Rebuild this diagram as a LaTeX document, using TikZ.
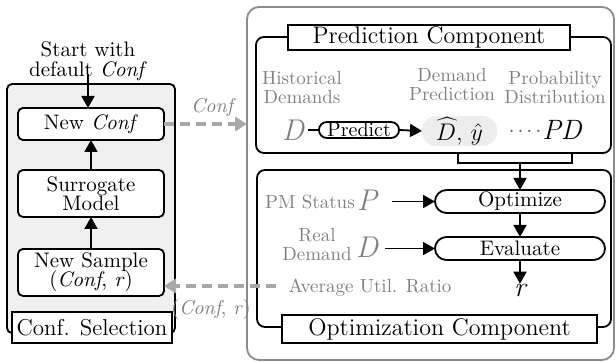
\documentclass[tikz,border=0pt]{standalone}
\usetikzlibrary{arrows.meta,shapes.misc,positioning}
\definecolor{lbl}{HTML}{808080}
\definecolor{dsh}{HTML}{A8A8A8}
\definecolor{panel}{HTML}{F0F0F0}
\definecolor{frame}{HTML}{8C8C8C}
\begin{document}
\begin{tikzpicture}[x=0.5pt,y=-0.5pt,
  every node/.style={inner sep=0pt, outer sep=0pt},
  stepbox/.style={draw, line width=0.9pt, rounded corners=2.5pt, fill=white,
    minimum width=73pt, align=center, font=\fontsize{10.5}{11.5}\selectfont},
  titlebox/.style={draw, line width=0.9pt, fill=white, font=\fontsize{12}{13}\selectfont},
  pill/.style={draw, line width=0.9pt, rounded rectangle, fill=white,
    font=\fontsize{10.5}{11}\selectfont},
  graytxt/.style={text=lbl, align=center, font=\fontsize{9.5}{9.5}\selectfont},
  bigsym/.style={text=lbl, font=\fontsize{15}{16}\selectfont\itshape},
  flow/.style={line width=0.9pt, -{Triangle[length=6pt,width=6.5pt]}},
  link/.style={line width=0.9pt},
  feed/.style={draw=dsh, line width=2pt, dash pattern=on 5pt off 3pt,
    -{Triangle[length=6pt,width=7pt,fill=dsh]}},
]
\useasboundingbox (0,0) rectangle (616,362);

% ---- configuration selection loop ----
\node[draw, line width=0.9pt, fill=panel, rounded corners=2.5pt,
      minimum width=84pt, minimum height=124.5pt] (selpanel) at (91,208.5) {};
\node[titlebox, minimum width=80pt, minimum height=15.5pt, font=\fontsize{11.5}{13}\selectfont] (seltitle) at (92,327.5) {Conf. Selection};
\node[align=center, font=\fontsize{10.5}{10}\selectfont] (start) at (88,61) {Start with\\default \emph{Conf}};
\node[stepbox, minimum height=16pt] (newconf) at (91,124) {New \emph{Conf}};
\node[stepbox, minimum height=23.5pt] (surr) at (91,193.5) {Surrogate\\[-2pt]Model};
\node[stepbox, minimum height=23.5pt] (newsample) at (91,272.5) {New Sample\\[-2pt](\emph{Conf}, \emph{r})};
\coordinate (startpt) at (88,74);
\draw[flow] (startpt) -- (startpt |- newconf.north);
\draw[flow] (surr.north) -- (newconf.south);
\draw[flow] (newsample.north) -- (surr.south);

% ---- evaluation side ----
\node[draw=frame, line width=0.9pt, rounded corners=6pt,
      minimum width=183.5pt, minimum height=176.5pt] (evalframe) at (430.5,183.5) {};

% prediction component
\node[draw, line width=0.9pt, rounded corners=4pt,
      minimum width=177.5pt, minimum height=58pt] (predbox) at (433.5,95) {};
\node[titlebox, minimum width=141pt, minimum height=12.5pt] (predtitle) at (429,37.5) {Prediction Component};
\node[graytxt] (hist) at (302,88) {Historical\\Demands};
\node[graytxt] (dprd) at (452,85) {Demand\\Prediction};
\node[graytxt] (prob) at (555,88) {Probability\\Distribution};
\node[bigsym] (dsym) at (293,130) {D};
\node[pill, minimum width=36pt, minimum height=8pt, inner xsep=2pt, font=\fontsize{10}{10}\selectfont] (predict) at (359,130) {Predict};
\node[fill=black!7, rounded corners=7pt, minimum width=37.5pt, minimum height=15pt,
      font=\fontsize{12}{13}\selectfont] (dhat) at (459.5,131) {$\widehat{D},\,\hat{y}$};
\node[text=black!60, font=\fontsize{12}{12}\selectfont] (dots) at (525,131) {.\kern1.2pt.\kern1.2pt.\kern1.2pt.};
\node[font=\fontsize{14}{16}\selectfont\itshape] (pd) at (562,130) {PD};
\draw[link] (dsym.east) ++(4,0) -- (predict.west);
\draw[flow] (predict.east) -- (dhat.west);

% optimization component
\node[draw, line width=0.9pt, rounded corners=4pt,
      minimum width=177pt, minimum height=78.5pt] (optbox) at (434,248.5) {};
\node[titlebox, minimum width=157.5pt, minimum height=14pt] (opttitle) at (439.5,329) {Optimization Component};
\node[pill, minimum width=85pt, minimum height=11.5pt] (optimize) at (520,201.5) {Optimize};
\node[pill, minimum width=85pt, minimum height=11.5pt] (evaluate) at (520,248.5) {Evaluate};
\node[graytxt] (pmstat) at (310,202) {PM Status};
\node[bigsym] (psym) at (367,200) {P};
\node[graytxt] (realdem) at (317,245) {Real\\Demand};
\node[bigsym] (rdsym) at (367,247) {D};
\node[font=\fontsize{14}{16}\selectfont\itshape] (rsym) at (520,290) {r};
\node[graytxt] (avgutil) at (370,288) {Average Util. Ratio};

% merge of the two prediction outputs into the optimizer
\coordinate (mergeL) at (458,163);
\coordinate (mergeR) at (572,163);
\coordinate (mergeC) at (520,163);
\draw[link] (mergeL |- predbox.south) -- (mergeL) -- (mergeR) -- (mergeR |- predbox.south);
\draw[flow] (mergeC) -- (optimize.north);
\draw[flow] (optimize.south) -- (evaluate.north);
\draw[flow] (evaluate.south) -- (rsym.north);
\coordinate (pstart) at (392,201.5);
\draw[flow] (pstart) -- (optimize.west);
\coordinate (dstart) at (385,248.5);
\draw[flow] (dstart) -- (evaluate.west);

% feedback between the two parts
\coordinate (confend) at (247,124);
\draw[feed] (newconf.east) -- (confend);
\node[text=lbl, font=\fontsize{10}{10}\selectfont\itshape] (conflbl) at (212,108) {Conf};
\coordinate (retstart) at (276,286);
\draw[feed] (retstart) -- (retstart -| newsample.east);
\node[text=lbl, font=\fontsize{10}{10}\selectfont] (retlbl) at (211,310) {(\emph{Conf}, \emph{r})};
\end{tikzpicture}
\end{document}
